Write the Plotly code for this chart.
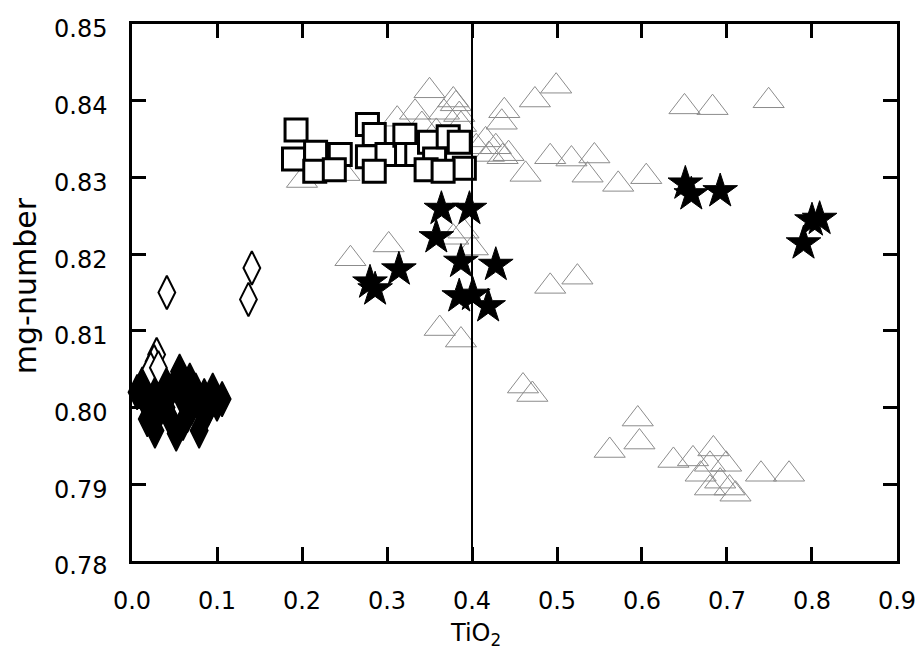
import plotly.graph_objects as go

# ---- data (TiO2 vs mg-number) ----
tri_x = [0.200, 0.250, 0.350, 0.333, 0.367, 0.381, 0.312, 0.358, 0.387, 0.341,
         0.378, 0.385, 0.416, 0.428, 0.436, 0.443, 0.435, 0.438, 0.474, 0.499,
         0.492, 0.517, 0.544, 0.463, 0.536, 0.572, 0.605, 0.650, 0.683, 0.749,
         0.257, 0.302, 0.378, 0.390, 0.401, 0.362, 0.387, 0.492, 0.524,
         0.460, 0.471, 0.595, 0.597, 0.562, 0.637, 0.660, 0.684, 0.680, 0.699,
         0.669, 0.692, 0.703, 0.680, 0.710, 0.740, 0.773, 0.405, 0.420]
tri_y = [0.8296, 0.8305, 0.8413, 0.8385, 0.8385, 0.8396, 0.8376, 0.8360, 0.8369, 0.8369,
         0.8401, 0.8382, 0.8349, 0.8340, 0.8327, 0.8331, 0.8372, 0.8387, 0.8401, 0.8419,
         0.8327, 0.8324, 0.8328, 0.8304, 0.8303, 0.8291, 0.8301, 0.8392, 0.8391, 0.8400,
         0.8194, 0.8212, 0.8222, 0.8230, 0.8208, 0.8103, 0.8088, 0.8158, 0.8170,
         0.8028, 0.8017, 0.7985, 0.7955, 0.7944, 0.7931, 0.7933, 0.7946, 0.7926, 0.7926,
         0.7913, 0.7904, 0.7895, 0.7895, 0.7887, 0.7913, 0.7913, 0.8340, 0.8330]

sq_x = [0.193, 0.190, 0.216, 0.215, 0.245, 0.238, 0.277, 0.285, 0.277, 0.300,
        0.285, 0.321, 0.323, 0.335, 0.350, 0.356, 0.346, 0.372, 0.385, 0.391, 0.366]
sq_y = [0.8362, 0.8324, 0.8333, 0.8308, 0.8330, 0.8310, 0.8369, 0.8356, 0.8327, 0.8330,
        0.8308, 0.8355, 0.8330, 0.8330, 0.8346, 0.8324, 0.8310, 0.8353, 0.8346, 0.8312, 0.8308]

star_x = [0.364, 0.397, 0.358, 0.387, 0.428, 0.280, 0.286, 0.314, 0.385, 0.401, 0.419,
          0.651, 0.658, 0.692, 0.809, 0.800, 0.790]
star_y = [0.8259, 0.8259, 0.8222, 0.8190, 0.8186, 0.8163, 0.8154, 0.8180, 0.8145, 0.8147, 0.8132,
          0.8292, 0.8278, 0.8282, 0.8246, 0.8244, 0.8214]

dfill_x = [0.006, 0.015, 0.020, 0.025, 0.030, 0.035, 0.040, 0.045, 0.050, 0.056, 0.060, 0.065,
           0.070, 0.075, 0.080, 0.085, 0.090, 0.095, 0.106, 0.027, 0.052, 0.079, 0.060, 0.040,
           0.012, 0.045, 0.068, 0.088, 0.100, 0.035, 0.018]
dfill_y = [0.8020, 0.8010, 0.8000, 0.8020, 0.7990, 0.8010, 0.8000, 0.8020, 0.8030, 0.8047, 0.8010, 0.7990,
           0.8000, 0.8022, 0.8000, 0.8015, 0.8000, 0.8022, 0.8011, 0.7970, 0.7966, 0.7970, 0.7980, 0.8030,
           0.8030, 0.7985, 0.8035, 0.7995, 0.8005, 0.8035, 0.7985]

dopen_x = [0.041, 0.141, 0.137, 0.029, 0.026, 0.022, 0.031]
dopen_y = [0.8150, 0.8182, 0.8141, 0.8069, 0.8060, 0.8050, 0.8052]

DIVIDER_TIO2 = 0.4

x_ticks = [0.0, 0.1, 0.2, 0.3, 0.4, 0.5, 0.6, 0.7, 0.8, 0.9]
y_ticks = [0.78, 0.79, 0.80, 0.81, 0.82, 0.83, 0.84, 0.85]

FONT = "DejaVu Sans"

fig = go.Figure()
fig.add_trace(go.Scatter(x=tri_x, y=tri_y, mode="markers", cliponaxis=False,
                         marker=dict(symbol="triangle-up", size=27, color="rgba(0,0,0,0)",
                                     line=dict(color="#8c8c8c", width=1))))
fig.add_trace(go.Scatter(x=sq_x, y=sq_y, mode="markers",
                         marker=dict(symbol="square", size=22, color="white",
                                     line=dict(color="black", width=3))))
fig.add_trace(go.Scatter(x=star_x, y=star_y, mode="markers",
                         marker=dict(symbol="star", size=26, color="black",
                                     line=dict(color="black", width=1))))
fig.add_trace(go.Scatter(x=dfill_x, y=dfill_y, mode="markers", cliponaxis=False,
                         marker=dict(symbol="diamond-tall", size=25, color="black",
                                     line=dict(color="black", width=1.5))))
fig.add_trace(go.Scatter(x=dopen_x, y=dopen_y, mode="markers",
                         marker=dict(symbol="diamond-tall", size=24, color="white",
                                     line=dict(color="black", width=2))))

fig.add_shape(type="line", xref="x", yref="paper", x0=DIVIDER_TIO2, x1=DIVIDER_TIO2,
              y0=0, y1=1, line=dict(color="black", width=2))

axis_common = dict(showline=True, linecolor="black", linewidth=2.5, mirror="allticks",
                   ticks="inside", ticklen=14, tickwidth=3, tickcolor="black",
                   showgrid=False, zeroline=False, ticklabeloverflow="allow",
                   tickfont=dict(family=FONT, size=24, color="black"))

fig.update_xaxes(range=[0, 0.90001], tickvals=x_ticks,
                 ticktext=[f"{v:.1f}" for v in x_ticks], ticklabelstandoff=16, **axis_common)
fig.update_yaxes(range=[0.77999, 0.85001], tickvals=y_ticks,
                 ticktext=[f"{v:.2f}" for v in y_ticks], ticklabelstandoff=17,
                 ticklabelshift=5, **axis_common)

fig.add_annotation(text="TiO<sub>2</sub>", xref="paper", yref="paper",
                   x=0.4496, y=-0.137, xanchor="center", yanchor="middle", showarrow=False,
                   font=dict(family=FONT, size=24, color="black"))
fig.add_annotation(text="mg-number", xref="paper", yref="paper",
                   x=-0.139, y=0.513, xanchor="center", yanchor="middle", showarrow=False,
                   textangle=-90, font=dict(family=FONT, size=30, color="black"))

# page body has an 8px default margin, so the figure is sized to fit the window
fig.update_layout(width=915, height=650, showlegend=False,
                  margin=dict(l=124, r=17, t=7, b=97),
                  plot_bgcolor="white", paper_bgcolor="white")

fig.write_html("out.html")
